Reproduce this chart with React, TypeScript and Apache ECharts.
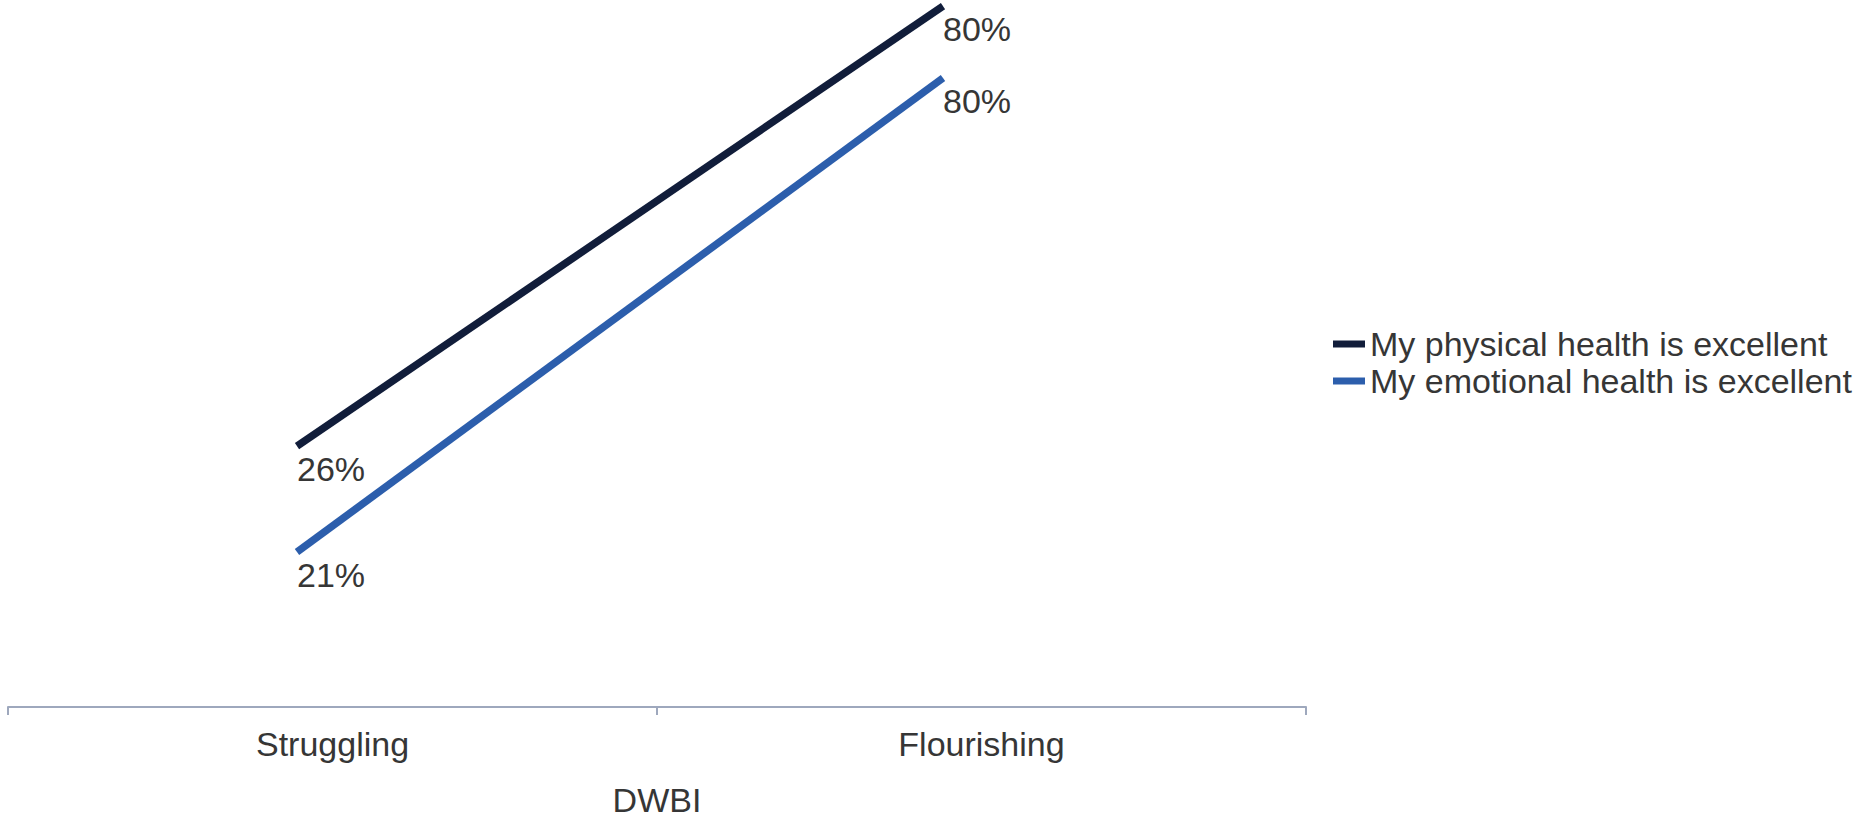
import React, { useEffect, useRef } from "react";
import * as echarts from "echarts";

const categories = ["Struggling", "Flourishing"];
const physical = [26, 80];
const emotional = [21, 80];
const seriesNames = ["My physical health is excellent", "My emotional health is excellent"];
const axisName = "DWBI";

export default function App() {
  const ref = useRef<HTMLDivElement>(null);
  useEffect(() => {
    if (!ref.current) return;
    const chart = echarts.init(ref.current, null, { renderer: "svg" });
    const font = "'Liberation Sans', Arial, sans-serif";
    const textColor = "#363636";
    const label = {
      show: true,
      formatter: "{c}%",
      position: [0, 23] as any,
      align: "left" as const,
      verticalAlign: "middle" as const,
      fontSize: 34,
      fontFamily: font,
      color: textColor,
    };
    chart.setOption({
      animation: false,
      backgroundColor: "#ffffff",
      grid: [
        { left: 8, right: 556, top: 0, bottom: 103, containLabel: false },
        { left: 297, right: 919, top: 0, bottom: 107, containLabel: false },
      ],
      legend: {
        orient: "vertical",
        left: 1333,
        top: 327,
        padding: 0,
        icon: "rect",
        itemWidth: 32,
        itemHeight: 7,
        itemGap: 3,
        textStyle: { fontSize: 34, lineHeight: 34, fontFamily: font, color: textColor },
        data: seriesNames,
      },
      xAxis: [
        {
          type: "category",
          gridIndex: 0,
          data: categories,
          boundaryGap: true,
          axisLine: { lineStyle: { color: "#9ea8bd", width: 2 } },
          axisTick: { show: true, length: 8, lineStyle: { color: "#9ea8bd", width: 2 } },
          axisLabel: { fontSize: 34, lineHeight: 34, fontFamily: font, color: textColor, margin: 20 },
          name: axisName,
          nameLocation: "middle",
          nameGap: 76,
          nameTextStyle: { fontSize: 34, lineHeight: 34, fontFamily: font, color: textColor },
        },
        {
          type: "category",
          gridIndex: 1,
          data: categories,
          boundaryGap: false,
          show: false,
        },
      ],
      yAxis: [
        { type: "value", gridIndex: 0, show: false, min: 0, max: 100 },
        { type: "value", gridIndex: 1, show: false, min: -7.0, max: 80.74 },
        { type: "value", gridIndex: 1, show: false, min: 0.71, max: 89.71 },
      ],
      series: [
        {
          name: seriesNames[0],
          type: "line",
          xAxisIndex: 1,
          yAxisIndex: 1,
          data: physical,
          symbol: "circle",
          symbolSize: 0,
          showSymbol: true,
          lineStyle: { color: "#111d3a", width: 7.5 },
          itemStyle: { color: "#111d3a" },
          label,
        },
        {
          name: seriesNames[1],
          type: "line",
          xAxisIndex: 1,
          yAxisIndex: 2,
          data: emotional,
          symbol: "circle",
          symbolSize: 0,
          showSymbol: true,
          lineStyle: { color: "#2c5eac", width: 7.5 },
          itemStyle: { color: "#2c5eac" },
          label,
        },
      ],
    });
    return () => chart.dispose();
  }, []);
  return (
    <div
      ref={ref}
      style={{ position: "fixed", left: 0, top: 0, width: 1862, height: 822 }}
    />
  );
}
